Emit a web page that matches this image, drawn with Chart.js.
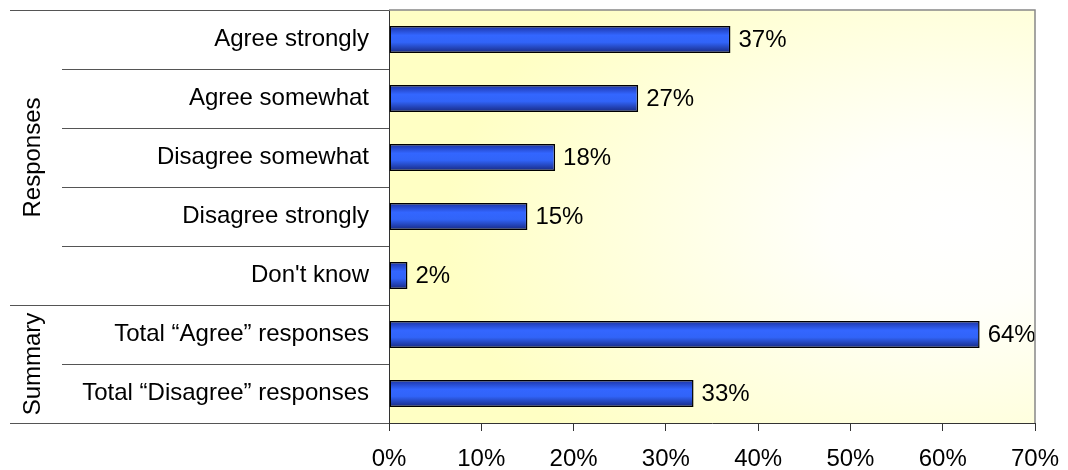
<!DOCTYPE html>
<html>
<head>
<meta charset="utf-8">
<script src="https://cdn.jsdelivr.net/npm/chart.js@4/dist/chart.umd.min.js"></script>
<style>
  body { margin: 0; background: #fff; }
  canvas { display: block; }
</style>
</head>
<body>
<canvas id="chart" width="1068" height="470"></canvas>
<script>
var labels = ["Agree strongly", "Agree somewhat", "Disagree somewhat", "Disagree strongly",
              "Don't know", "Total \u201cAgree\u201d responses", "Total \u201cDisagree\u201d responses"];
var values = [37, 27, 18, 15, 2, 64, 33];
var xTicks = [0, 10, 20, 30, 40, 50, 60, 70];
// row groups drawn down the left side: name, first row, last row
var groups = [
  { name: "Responses", from: 0, to: 4 },
  { name: "Summary", from: 5, to: 6 }
];

var FONT = "'Liberation Sans', Arial, sans-serif";

// blue tube look for each bar, built from its row position
function barFill(c) {
  var chart = c.chart;
  var y = chart.scales.y;
  if (!y || c.dataIndex === undefined) return "#3366ff";
  var mid = y.getPixelForValue(c.dataIndex);
  if (!isFinite(mid)) return "#3366ff";
  var half = 14;
  var g = chart.ctx.createLinearGradient(0, mid - half, 0, mid + half);
  g.addColorStop(0, "#1a2f9e");
  g.addColorStop(0.35, "#3366ff");
  g.addColorStop(0.6, "#3164f8");
  g.addColorStop(1, "#16257a");
  return g;
}

var plotBg = {
  id: "plotBg",
  beforeDraw: function(chart) {
    var a = chart.chartArea, ctx = chart.ctx;
    ctx.save();
    ctx.beginPath();
    ctx.rect(a.left, a.top, a.right - a.left, a.bottom - a.top);
    ctx.clip();
    var cx = a.left + (a.right - a.left) * 0.88, cy = a.top + (a.bottom - a.top) * 0.52;
    ctx.translate(cx, cy);
    ctx.scale(1.6, 1);
    var g = ctx.createRadialGradient(0, 0, 0, 0, 0, 320);
    g.addColorStop(0, "#ffffff");
    g.addColorStop(0.25, "#fffffa");
    g.addColorStop(1, "#ffffc4");
    ctx.fillStyle = g;
    ctx.fillRect(-1000, -1000, 2000, 2000);
    ctx.restore();
  },
  afterDraw: function(chart) {
    var a = chart.chartArea, ctx = chart.ctx, y = chart.scales.y;
    ctx.save();
    // grey frame on top and right
    ctx.strokeStyle = "#888";
    ctx.lineWidth = 1.5;
    ctx.beginPath();
    ctx.moveTo(a.left, a.top);
    ctx.lineTo(a.right, a.top);
    ctx.lineTo(a.right, a.bottom);
    ctx.stroke();

    // row separators in the label column
    var n = labels.length;
    var edge = function(i) {
      if (i <= 0) return a.top;
      if (i >= n) return a.bottom;
      return (y.getPixelForValue(i - 1) + y.getPixelForValue(i)) / 2;
    };
    ctx.strokeStyle = "#555";
    ctx.lineWidth = 1;
    for (var i = 0; i <= n; i++) {
      var groupEdge = groups.some(function(g) { return g.from === i || g.to + 1 === i; });
      var yy = Math.round(edge(i)) + 0.5;
      ctx.beginPath();
      ctx.moveTo(groupEdge ? 10 : 62, yy);
      ctx.lineTo(a.left, yy);
      ctx.stroke();
    }

    // rotated group names
    ctx.fillStyle = "#000";
    ctx.font = "24px " + FONT;
    ctx.textAlign = "center";
    ctx.textBaseline = "middle";
    groups.forEach(function(g) {
      var mid = (edge(g.from) + edge(g.to + 1)) / 2;
      ctx.save();
      ctx.translate(33, mid);
      ctx.rotate(-Math.PI / 2);
      ctx.fillText(g.name, 0, 0);
      ctx.restore();
    });
    ctx.restore();
  }
};

// percentage next to the end of each bar
var barValues = {
  id: "barValues",
  afterDatasetsDraw: function(chart) {
    var ctx = chart.ctx;
    var meta = chart.getDatasetMeta(0);
    ctx.save();
    ctx.fillStyle = "#000";
    ctx.font = "24px " + FONT;
    ctx.textAlign = "left";
    ctx.textBaseline = "middle";
    meta.data.forEach(function(bar, i) {
      ctx.fillText(values[i] + "%", bar.x + 8, bar.y + 1);
    });
    ctx.restore();
  }
};

new Chart(document.getElementById("chart"), {
  type: "bar",
  data: {
    labels: labels,
    datasets: [{
      data: values,
      backgroundColor: barFill,
      borderColor: "#000",
      borderWidth: 1.5,
      borderSkipped: false,
      barPercentage: 0.46,
      categoryPercentage: 1
    }]
  },
  options: {
    indexAxis: "y",
    responsive: false,
    animation: false,
    layout: { padding: { top: 10, right: 33, left: 0, bottom: 0 } },
    plugins: {
      legend: { display: false },
      tooltip: { enabled: false }
    },
    scales: {
      x: {
        min: 0,
        max: 70,
        afterBuildTicks: function(scale) {
          scale.ticks = xTicks.map(function(v) { return { value: v }; });
        },
        afterFit: function(scale) {
          scale.height = 47;
          scale.paddingLeft = 0;
          scale.paddingRight = 0;
        },
        border: { color: "#333", width: 1 },
        grid: { drawOnChartArea: false, drawTicks: true, tickLength: 8, color: "#333" },
        ticks: {
          color: "#000",
          font: { family: FONT, size: 24 },
          padding: 14,
          maxRotation: 0,
          callback: function(v) { return v + "%"; }
        }
      },
      y: {
        afterFit: function(scale) {
          scale.width = 389;
          scale.paddingTop = 0;
          scale.paddingBottom = 0;
        },
        border: { color: "#333", width: 1 },
        grid: { display: false, drawTicks: false },
        ticks: {
          color: "#000",
          font: { family: FONT, size: 24 },
          padding: 20
        }
      }
    }
  },
  plugins: [plotBg, barValues]
});
</script>
</body>
</html>
